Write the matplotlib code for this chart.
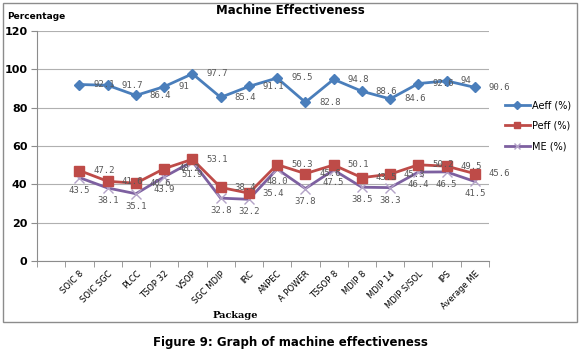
import numpy as np
import matplotlib.pyplot as plt
from matplotlib.patches import Rectangle

packages = ['SOIC 8', 'SOIC SGC', 'PLCC', 'TSOP 32', 'VSOP', 'SGC MDIP', 'IRC',
            'ANPEC', 'A POWER', 'TSSOP 8', 'MDIP 8', 'MDIP 14', 'MDIP S/SOL',
            'IPS', 'Average ME']
aeff = [92.1, 91.7, 86.4, 91, 97.7, 85.4, 91.1, 95.5, 82.8, 94.8, 88.6, 84.6, 92.6, 94, 90.6]
peff = [47.2, 41.6, 40.6, 48.2, 53.1, 38.4, 35.4, 50.3, 45.6, 50.1, 43.5, 45.3, 50.2, 49.5, 45.6]
me = [43.5, 38.1, 35.1, 43.9, 51.9, 32.8, 32.2, 48.0, 37.8, 47.5, 38.5, 38.3, 46.4, 46.5, 41.5]

blue = '#4A7EBB'
red = '#BE4B48'
purple = '#7D60A0'
lblcol = '#595959'

fig = plt.figure(figsize=(5.8, 3.61), dpi=100)
# chart border
fig.patches.append(Rectangle((0.005, 0.108), 0.99, 0.884, transform=fig.transFigure,
                             fill=False, edgecolor='#8c8c8c', linewidth=1))

ax = fig.add_axes([0.064, 0.277, 0.779, 0.637])
x = np.arange(len(packages))

ax.plot(x, aeff, color=blue, lw=2, marker='D', ms=5.5, label='Aeff (%)', zorder=3)
ax.plot(x, peff, color=red, lw=2, marker='s', ms=7, label='Peff (%)', zorder=3)
ax.plot(x, me, color=purple, lw=2, marker='x', ms=7, mec='#B3A2C7', mew=1,
        label='ME (%)', zorder=2)

def fmt(v):
    return ('%g' % v) if v != 48.0 else '48.0'

for xi, v in zip(x, aeff):
    ax.annotate(fmt(v), (xi, v), xytext=(10, 0), textcoords='offset points',
                ha='left', va='center', fontsize=6.5, family='DejaVu Sans Mono', color=lblcol)
for xi, v in zip(x, peff):
    ax.annotate(fmt(v), (xi, v), xytext=(10, 0), textcoords='offset points',
                ha='left', va='center', fontsize=6.5, family='DejaVu Sans Mono', color=lblcol)
for xi, v in zip(x, me):
    ax.annotate(fmt(v), (xi, v), xytext=(0, -9), textcoords='offset points',
                ha='center', va='center', fontsize=6.5, family='DejaVu Sans Mono', color=lblcol)

ax.set_xlim(-1.5, 14.5)
ax.set_ylim(0, 120)
ax.set_yticks(range(0, 121, 20))
ax.yaxis.grid(True, color='#b0b0b0', lw=0.8)
ax.set_axisbelow(True)
ax.set_xticks(x)
ax.set_xticklabels(packages, rotation=45, ha='right', rotation_mode='anchor', fontsize=6)
ax.set_xticks(np.arange(-1.5, 14.6, 1), minor=True)
ax.tick_params(axis='x', which='major', length=0, pad=6)
ax.tick_params(axis='x', which='minor', length=4, color='#8c8c8c')
ax.tick_params(axis='y', length=4, color='#8c8c8c', labelsize=8, pad=3)
for lbl in ax.get_yticklabels():
    lbl.set_fontweight('bold')
for s in ['top', 'right']:
    ax.spines[s].set_visible(False)
ax.spines['left'].set_color('#8c8c8c')
ax.spines['bottom'].set_color('#8c8c8c')

ax.set_xlabel('Package', fontsize=7, fontweight='bold', family='DejaVu Serif')
ax.xaxis.set_label_coords(0.438, -0.218)

fig.text(0.5, 0.972, 'Machine Effectiveness', ha='center', va='center',
         fontsize=8.5, fontweight='bold')
fig.text(0.012, 0.955, 'Percentage', ha='left', va='center', fontsize=6.5, fontweight='bold')

leg = ax.legend(loc='upper left', bbox_to_anchor=(1.035, 0.70), frameon=False,
                fontsize=7, handlelength=2.6, labelspacing=1.1, markerscale=0.7,
                handletextpad=0.2, borderaxespad=0, borderpad=0)

fig.text(0.5, 0.052, 'Figure 9: Graph of machine effectiveness', ha='center',
         va='center', fontsize=8.5, fontweight='bold')

fig.savefig('out.png', dpi=100)
